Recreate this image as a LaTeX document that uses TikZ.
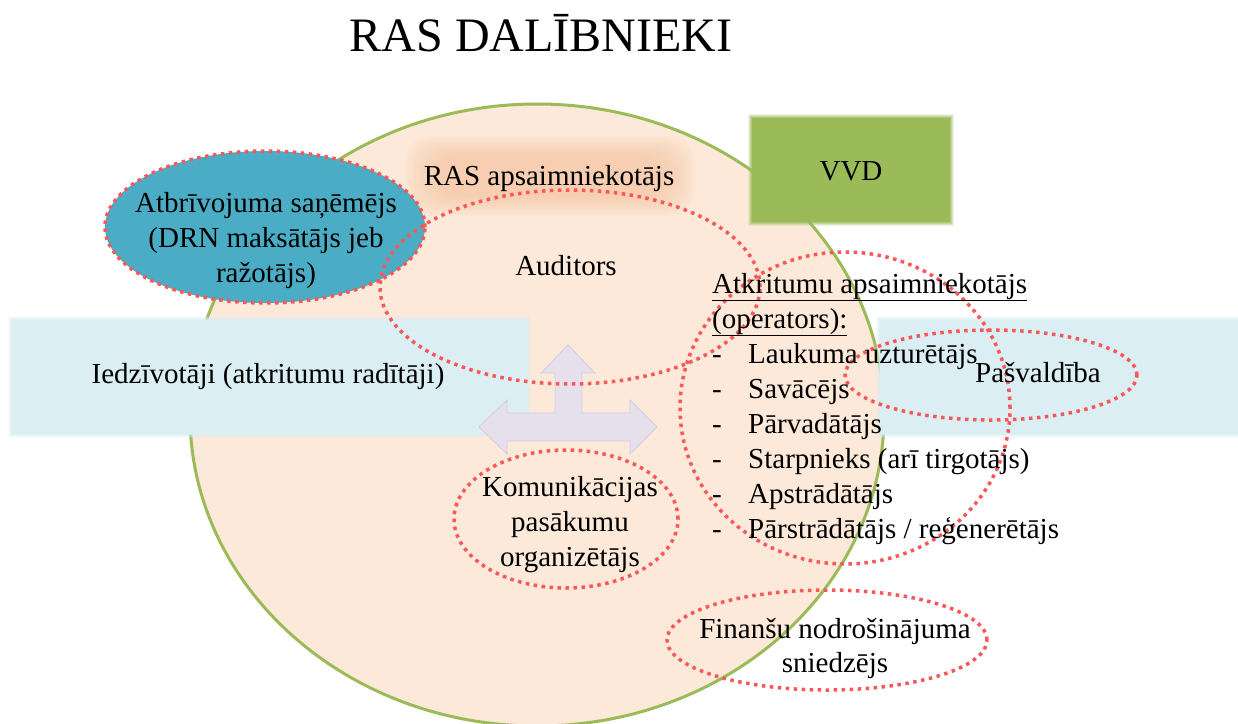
\documentclass[tikz,border=0pt]{standalone}
\usepackage{fontspec}
\setmainfont{Liberation Serif}
\usetikzlibrary{shapes.geometric}
\definecolor{peach}{RGB}{253,233,217}
\definecolor{ringgreen}{RGB}{155,187,89}
\definecolor{dotred}{RGB}{250,88,88}
\definecolor{bandblue}{RGB}{218,238,243}
\definecolor{atbblue}{RGB}{75,172,198}
\definecolor{lav}{RGB}{229,224,236}
\definecolor{lavline}{RGB}{212,204,227}
\definecolor{glowor}{RGB}{247,196,160}
\newcommand\bodysize{\fontsize{29}{35}\selectfont}
\newcommand\softbox[5]{%
  \foreach \d/\o in {4/0.15,3/0.25,2/0.35,1/0.5}{%
    \fill[#5, opacity=\o] (#1-\d,#2-\d) rectangle (#3+\d,#4+\d);}%
  \fill[#5] (#1,#2) rectangle (#3,#4);}
\begin{document}
\begin{tikzpicture}[x=1pt,y=-1pt,
  dotell/.style={ellipse, draw=dotred, line width=3.5pt, dash pattern=on 3.5pt off 4.5pt, inner sep=0pt},
  txt/.style={inner sep=0pt, anchor=base, font=\bodysize},
  txtl/.style={inner sep=0pt, anchor=base west, font=\bodysize},
]
\useasboundingbox (0,0) rectangle (1238,723);
\fill[white] (0,0) rectangle (1238,723);

% big ring
\node[ellipse, fill=peach, draw=ringgreen, line width=3pt, inner sep=0pt,
      minimum width=694pt, minimum height=622pt] (ring) at (537,415) {};

% glow behind RAS apsaimniekotajs
\foreach \d in {0,3,...,30}{
  \fill[glowor, opacity=0.09, rounded corners=26pt] (405+\d,136+0.7*\d) rectangle (695-\d,216-0.7*\d);
}

% VVD box
\softbox{752}{118}{950}{222}{ringgreen}
\node[inner sep=0pt, minimum width=198pt, minimum height=104pt] (vvdbox) at (851,170) {};

% bands
\softbox{12}{320}{527}{434}{bandblue}
\softbox{880}{320}{1245}{434}{bandblue}
\node[inner sep=0pt, minimum width=515pt, minimum height=114pt] (bandl) at (269.5,377) {};
\node[inner sep=0pt, minimum width=358pt, minimum height=114pt] (bandr) at (1059,377) {};

% three-way arrow
\fill[lav, draw=lavline, line width=0.8pt] (568,345) -- (595,373) -- (582,373) -- (582,413) -- (630,413) -- (630,400) -- (657,427) -- (630,454) -- (630,441) -- (507,441) -- (507,454) -- (479,427) -- (507,400) -- (507,413) -- (555,413) -- (555,373) -- (541,373) -- cycle;

% ellipses
\node[dotell, fill=atbblue, minimum width=320pt, minimum height=152pt] (atb) at (265,227) {};
\node[dotell, minimum width=380pt, minimum height=194pt] (aud) at (570,287) {};
\node[dotell, minimum width=330pt, minimum height=312pt] (atk) at (845,408) {};
\node[dotell, minimum width=292pt, minimum height=90pt] (pas) at (991,375) {};
\node[dotell, minimum width=224pt, minimum height=138pt] (kom) at (566,519) {};
\node[dotell, minimum width=320pt, minimum height=100pt] (fin) at (827,640) {};

% texts
\node[inner sep=0pt, anchor=base, font=\fontsize{48}{58}\selectfont] (title) at (541,51) {RAS DALĪBNIEKI};
\node[txt] (rasap) at (549,185) {RAS apsaimniekotājs};
\node[txt] (vvd) at (851,180) {VVD};
\node[txt] (atb1) at (266,212) {Atbrīvojuma saņēmējs};
\node[txt] (atb2) at (266,247) {(DRN maksātājs jeb};
\node[txt] (atb3) at (266,282) {ražotājs)};
\node[txt] (audt) at (566,275) {Auditors};
\node[txt] (iedz) at (268,383) {Iedzīvotāji (atkritumu radītāji)};
\node[txt] (past) at (1038,382) {Pašvaldība};
\node[txtl] (atkh1) at (712,293) {\underline{Atkritumu apsaimniekotājs}};
\node[txtl] (atkh2) at (712,328) {\underline{(operators):}};
\node[txtl] (d1) at (712,363) {-};
\node[txtl] (d2) at (712,398) {-};
\node[txtl] (d3) at (712,433) {-};
\node[txtl] (d4) at (712,468) {-};
\node[txtl] (d5) at (712,503) {-};
\node[txtl] (d6) at (712,538) {-};
\node[txtl] (i1) at (748,363) {Laukuma uzturētājs};
\node[txtl] (i2) at (748,398) {Savācējs};
\node[txtl] (i3) at (748,433) {Pārvadātājs};
\node[txtl] (i4) at (748,468) {Starpnieks (arī tirgotājs)};
\node[txtl] (i5) at (748,503) {Apstrādātājs};
\node[txtl] (i6) at (748,538) {Pārstrādātājs / reģenerētājs};
\node[txt] (kom1) at (570,496) {Komunikācijas};
\node[txt] (kom2) at (570,531) {pasākumu};
\node[txt] (kom3) at (570,566) {organizētājs};
\node[txt] (fin1) at (835,638) {Finanšu nodrošinājuma};
\node[txt] (fin2) at (835,672) {sniedzējs};
\end{tikzpicture}
\end{document}
